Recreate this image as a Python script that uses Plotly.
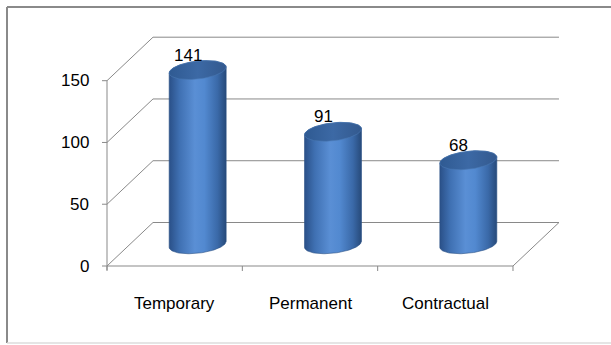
import numpy as np
import plotly.graph_objects as go

# ---- data ----
categories = ["Temporary", "Permanent", "Contractual"]
values = [141, 91, 68]
y_ticks = [0, 50, 100, 150]
y_tick_labels = ["0", "50", "100", "150"]

# ---- geometry / style (pixel-derived scale) ----
W, H = 611, 345
PX_X = 135.33          # pixels per category
PX_Y = 61.77 / 50.0    # pixels per value unit
X0_PX, Y0_PX = 107, 266  # front-left-bottom corner in pixels

def xr(px):
    return (px - X0_PX) / PX_X - 0.5

def yr(py):
    return (Y0_PX - py) / PX_Y

DX = 46 / PX_X   # depth offset (x)
DY = 43.5 / PX_Y  # depth offset (y)
GRID = "#898989"
FONT = "Liberation Sans, Arial, sans-serif"
FS = 17

n = len(categories)
xmin, xmax = -0.5, n - 0.5

shapes = []
def seg(x0, y0, x1, y1, color=GRID, w=1):
    shapes.append(dict(type="line", xref="x", yref="y", x0=x0, y0=y0, x1=x1, y1=y1,
                       line=dict(color=color, width=w), layer="below"))

# back wall gridlines + left wall diagonals
for v in y_ticks:
    seg(xmin + DX, v + DY, xmax + DX, v + DY)
    seg(xmin, v, xmin + DX, v + DY)
# floor
seg(xmin, 0, xmax, 0)
seg(xmax, 0, xmax + DX, DY)
# front vertical axis
seg(xmin, 0 - 4 / PX_Y, xmin, max(y_ticks))
# y ticks
for v in y_ticks:
    seg(xmin - 5 / PX_X, v, xmin, v)
# x ticks
for i in range(n + 1):
    seg(xmin + i, 0, xmin + i, -5 / PX_Y)

# outer border
shapes.append(dict(type="line", xref="paper", yref="paper", x0=7 / W, y0=1 - 7 / H, x1=1.01, y1=1 - 7 / H,
                   line=dict(color="#8a8a8a", width=2)))
shapes.append(dict(type="line", xref="paper", yref="paper", x0=7 / W, y0=1 - 7 / H, x1=7 / W, y1=1 - 343 / H,
                   line=dict(color="#8a8a8a", width=2)))
shapes.append(dict(type="line", xref="paper", yref="paper", x0=7 / W, y0=1 - 343 / H, x1=1.01, y1=1 - 343 / H,
                   line=dict(color="#dcdcdc", width=1.5)))

fig = go.Figure()

# cylinder geometry (pixels)
A_PX, B_PX, K_PX = 28.5, 9.0, 3.0
a = A_PX / PX_X
b = B_PX / PX_Y
k = K_PX / PX_Y

def ellipse(cx, cy, t):
    return cx + a * np.cos(t), cy - b * np.sin(t) + k * np.cos(t)

body_scale = [[0.0, "#2a5088"], [0.18, "#3f70b2"], [0.45, "#5a8fd5"], [0.62, "#5289d0"],
              [0.85, "#3a69a8"], [1.0, "#274a7a"]]
top_scale = [[0.0, "#2f5a92"], [0.5, "#3c69a5"], [1.0, "#33598e"]]

for i, (c, v) in enumerate(zip(categories, values)):
    cx = i + DX / 2
    cy0 = DY / 2
    cy1 = DY / 2 + v
    t_back = np.linspace(np.pi, 2 * np.pi, 60)   # top back arc (upper on screen)
    xt, yt = ellipse(cx, cy1, t_back)
    t_front = np.linspace(0, np.pi, 60)           # bottom front arc (lower on screen)
    xb, yb = ellipse(cx, cy0, t_front)
    bx = np.concatenate([xt, xb, xt[:1]])
    by = np.concatenate([yt, yb, yt[:1]])
    fig.add_trace(go.Scatter(x=bx, y=by, mode="lines", fill="toself",
                             line=dict(width=0.6, color="#2c5286"),
                             fillgradient=dict(type="horizontal", colorscale=body_scale),
                             hoverinfo="skip", showlegend=False))
    t_all = np.linspace(0, 2 * np.pi, 120)
    ex, ey = ellipse(cx, cy1, t_all)
    fig.add_trace(go.Scatter(x=ex, y=ey, mode="lines", fill="toself",
                             line=dict(width=0.6, color="#4a78b4"),
                             fillgradient=dict(type="horizontal", colorscale=top_scale),
                             hoverinfo="skip", showlegend=False))

annotations = []
# data labels
for i, v in enumerate(values):
    cx = i + DX / 2
    annotations.append(dict(x=cx - 10 / PX_X, y=DY / 2 + v + 15 / PX_Y, xref="x", yref="y",
                            text=str(v), showarrow=False, xanchor="center", yanchor="middle",
                            font=dict(family=FONT, size=FS, color="#000000")))
# category labels
for i, c in enumerate(categories):
    annotations.append(dict(x=i, y=yr(303), xref="x", yref="y", text=c, showarrow=False,
                            xanchor="center", yanchor="middle",
                            font=dict(family=FONT, size=FS, color="#000000")))
# y tick labels
for v, lab in zip(y_ticks, y_tick_labels):
    annotations.append(dict(x=xr(91), y=v, xref="x", yref="y", text=lab, showarrow=False,
                            xanchor="right", yanchor="middle",
                            font=dict(family=FONT, size=FS, color="#000000")))

fig.update_layout(
    width=W, height=H,
    margin=dict(l=0, r=0, t=0, b=0),
    paper_bgcolor="white", plot_bgcolor="white",
    xaxis=dict(range=[xr(0), xr(W)], visible=False, fixedrange=True),
    yaxis=dict(range=[yr(H), yr(0)], visible=False, fixedrange=True),
    shapes=shapes, annotations=annotations,
    showlegend=False,
)

fig.write_html("out.html")
